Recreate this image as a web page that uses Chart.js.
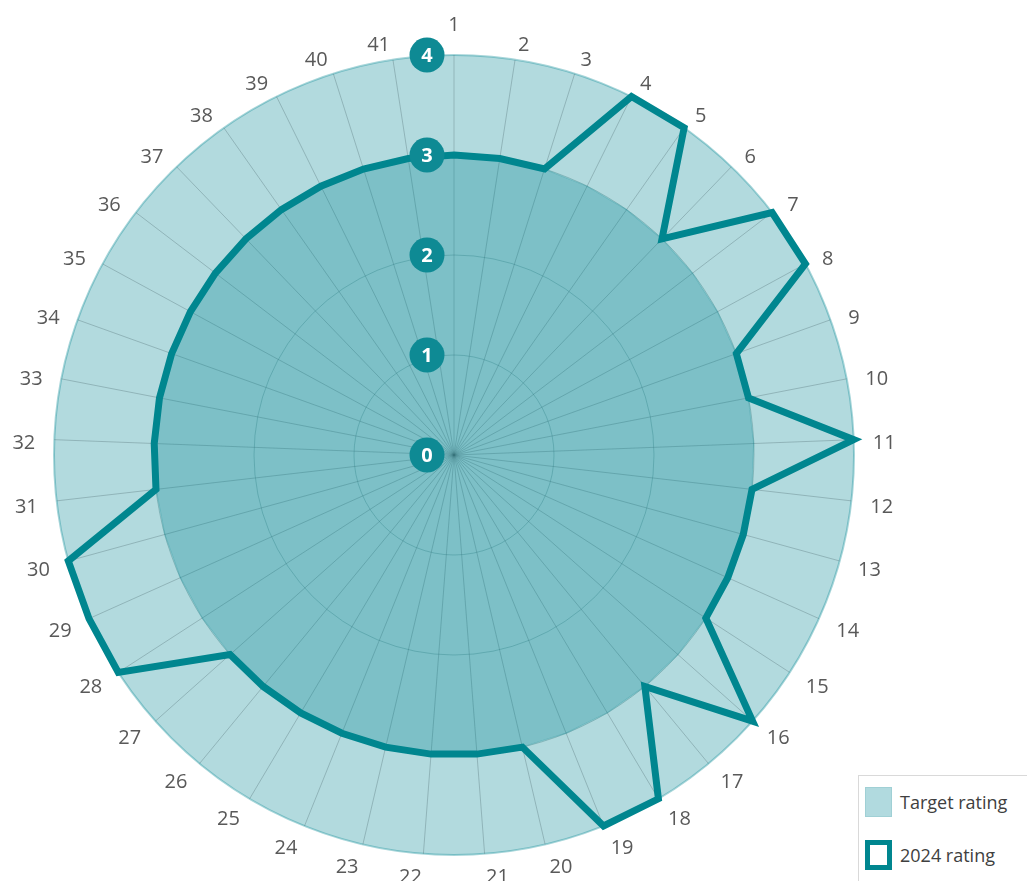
<!DOCTYPE html>
<html><head><meta charset="utf-8">
<script src="https://cdn.jsdelivr.net/npm/chart.js@4.4.1/dist/chart.umd.min.js"></script>
<style>
html,body{margin:0;padding:0;background:#fff;overflow:hidden;width:1027px;height:881px;}
#c{position:absolute;left:0;top:0;}
#legend{position:absolute;left:858px;top:775px;width:200px;height:130px;border:1px solid #D9D9D9;background:#fff;font-family:"Open Sans",sans-serif;font-size:18px;color:#404040;}
.item{position:absolute;left:6px;display:flex;align-items:center;white-space:nowrap;}
.sw{box-sizing:border-box;width:27px;height:30px;margin-right:8px;}
</style></head>
<body>
<canvas id="c" width="1027" height="881"></canvas>
<div id="legend"></div>
<script>
const categories = ['1','2','3','4','5','6','7','8','9','10','11','12','13','14','15','16','17','18','19','20','21','22','23','24','25','26','27','28','29','30','31','32','33','34','35','36','37','38','39','40','41'];
const targetRating = [3,3,3,3,3,3,3,3,3,3,3,3,3,3,3,3,3,3,3,3,3,3,3,3,3,3,3,3,3,3,3,3,3,3,3,3,3,3,3,3,3];
const rating2024 = [3,3,3,4,4,3,4,4,3,3,4,3,3,3,3,4,3,4,4,3,3,3,3,3,3,3,3,4,4,4,3,3,3,3,3,3,3,3,3,3,3];
const seriesNames = ['Target rating','2024 rating'];
const scaleMin = 0, scaleMax = 4, scaleStep = 1;

const TEAL = '#00868F';
const FILL = 'rgba(0,134,145,0.3)';

// category labels around the circle, placed from the scale's own point positions
const pointLabelText = {
  id: 'pointLabelText',
  afterDatasetsDraw(chart) {
    const s = chart.scales.r, ctx = chart.ctx;
    ctx.save();
    ctx.font = '20px "Open Sans", sans-serif';
    ctx.fillStyle = '#595959';
    ctx.textBaseline = 'middle';
    chart.data.labels.forEach((lab, i) => {
      const p = s.getPointPosition(i, s.drawingArea + 19);
      const ang = s.getIndexAngle(i);
      const sn = Math.sin(ang), cs = Math.cos(ang);
      let y;
      if (Math.abs(sn) < 0.02) { ctx.textAlign = 'center'; y = p.y - cs * 11; }
      else { ctx.textAlign = sn > 0 ? 'left' : 'right'; y = p.y + 4.5; }
      ctx.fillText(lab, p.x, y);
    });
    ctx.restore();
  }
};

const tickBadges = {
  id: 'tickBadges',
  afterDatasetsDraw(chart) {
    const s = chart.scales.r, ctx = chart.ctx;
    ctx.save();
    s.ticks.forEach(t => {
      const y = s.yCenter - s.getDistanceFromCenterForValue(t.value);
      const x = s.xCenter - 27;
      ctx.beginPath();
      ctx.arc(x, y, 17.5, 0, Math.PI * 2);
      ctx.fillStyle = '#0E8A94';
      ctx.fill();
      ctx.fillStyle = '#ffffff';
      ctx.font = 'bold 20px "Open Sans", sans-serif';
      ctx.textAlign = 'center';
      ctx.textBaseline = 'middle';
      ctx.fillText(t.label, x, y + 1);
    });
    ctx.restore();
  }
};

const chart = new Chart(document.getElementById('c'), {
  type: 'radar',
  data: {
    labels: categories,
    datasets: [
      { label: seriesNames[0], data: targetRating, order: 2, fill: true,
        backgroundColor: FILL, borderColor: 'rgba(0,134,145,0.18)', borderWidth: 1.5,
        pointRadius: 0, pointHoverRadius: 0 },
      { label: seriesNames[1], data: rating2024, order: 1, fill: false,
        backgroundColor: '#ffffff', borderColor: TEAL, borderWidth: 7, borderJoinStyle: 'miter',
        pointRadius: 0, pointHoverRadius: 0 }
    ]
  },
  options: {
    responsive: false,
    animation: false,
    layout: { padding: { left: 54, top: 55, right: 173, bottom: 26 } },
    elements: { line: { tension: 0 } },
    plugins: { legend: { display: false }, tooltip: { enabled: false } },
    scales: {
      r: {
        min: scaleMin, max: scaleMax, beginAtZero: true,
        backgroundColor: FILL,
        ticks: { display: false, stepSize: scaleStep },
        grid: {
          circular: true,
          color: c => (c.tick && c.tick.value === scaleMax) ? 'rgba(0,134,145,0.35)' : 'rgba(40,100,105,0.28)',
          lineWidth: c => (c.tick && c.tick.value === scaleMax) ? 2 : 1
        },
        angleLines: { color: 'rgba(80,110,115,0.35)', lineWidth: 1 },
        pointLabels: { display: false }
      }
    }
  },
  plugins: [pointLabelText, tickBadges]
});

// HTML legend built from the datasets
const leg = document.getElementById('legend');
const swatchStyles = [
  'background:rgb(177,218,223);border:1px solid rgb(160,208,213);',
  'background:#fff;border:5px solid ' + TEAL + ';'
];
chart.data.datasets.forEach((ds, i) => {
  const it = document.createElement('div');
  it.className = 'item';
  it.style.top = (11 + i * 53) + 'px';
  it.innerHTML = '<span class="sw" style="' + swatchStyles[i] + '"></span><span>' + ds.label + '</span>';
  leg.appendChild(it);
});
</script>
</body></html>
